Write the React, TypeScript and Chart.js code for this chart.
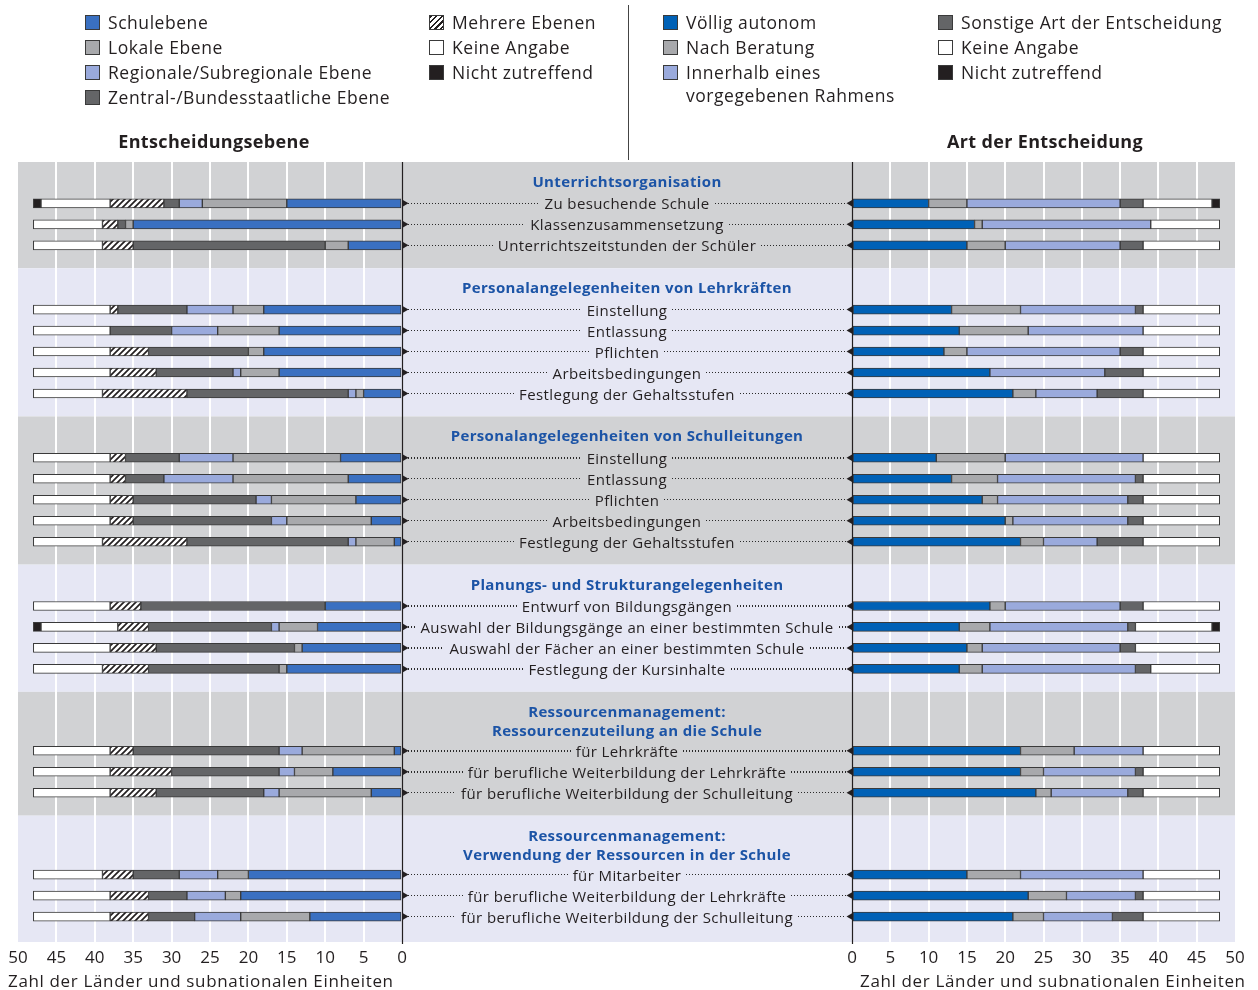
import React, { useEffect, useRef } from 'react';
import { Chart, registerables } from 'chart.js';

Chart.register(...registerables);

// ---------------- DATA ----------------
const groupTitles: string[][] = [
  ['Unterrichtsorganisation'],
  ['Personalangelegenheiten von Lehrkräften'],
  ['Personalangelegenheiten von Schulleitungen'],
  ['Planungs- und Strukturangelegenheiten'],
  ['Ressourcenmanagement:', 'Ressourcenzuteilung an die Schule'],
  ['Ressourcenmanagement:', 'Verwendung der Ressourcen in der Schule'],
];
const groupSizes = [3, 5, 5, 4, 3, 3];

const rowLabels = [
  'Zu besuchende Schule',
  'Klassenzusammensetzung',
  'Unterrichtszeitstunden der Schüler',
  'Einstellung',
  'Entlassung',
  'Pflichten',
  'Arbeitsbedingungen',
  'Festlegung der Gehaltsstufen',
  'Einstellung',
  'Entlassung',
  'Pflichten',
  'Arbeitsbedingungen',
  'Festlegung der Gehaltsstufen',
  'Entwurf von Bildungsgängen',
  'Auswahl der Bildungsgänge an einer bestimmten Schule',
  'Auswahl der Fächer an einer bestimmten Schule',
  'Festlegung der Kursinhalte',
  'für Lehrkräfte',
  'für berufliche Weiterbildung der Lehrkräfte',
  'für berufliche Weiterbildung der Schulleitung',
  'für Mitarbeiter',
  'für berufliche Weiterbildung der Lehrkräfte',
  'für berufliche Weiterbildung der Schulleitung',
];

// Left chart: Entscheidungsebene
const schulebene = [15, 35, 7, 18, 16, 18, 16, 5, 8, 7, 6, 4, 1, 10, 11, 13, 15, 1, 9, 4, 20, 21, 12];
const lokaleEbene = [11, 1, 3, 4, 8, 2, 5, 1, 14, 15, 11, 11, 5, 0, 5, 1, 1, 12, 5, 12, 4, 2, 9];
const regionaleEbene = [3, 0, 0, 6, 6, 0, 1, 1, 7, 9, 2, 2, 1, 0, 1, 0, 0, 3, 2, 2, 5, 5, 6];
const zentraleEbene = [2, 1, 25, 9, 8, 13, 10, 21, 7, 5, 16, 18, 21, 24, 16, 18, 17, 19, 14, 14, 6, 5, 6];
const mehrereEbenen = [7, 2, 4, 1, 0, 5, 6, 11, 2, 2, 3, 3, 11, 4, 4, 6, 6, 3, 8, 6, 4, 5, 5];
const keineAngabeLinks = [9, 9, 9, 10, 10, 10, 10, 9, 10, 10, 10, 10, 9, 10, 10, 10, 9, 10, 10, 10, 9, 10, 10];
const nichtZutreffendLinks = [1, 0, 0, 0, 0, 0, 0, 0, 0, 0, 0, 0, 0, 0, 1, 0, 0, 0, 0, 0, 0, 0, 0];

// Right chart: Art der Entscheidung
const voelligAutonom = [10, 16, 15, 13, 14, 12, 18, 21, 11, 13, 17, 20, 22, 18, 14, 15, 14, 22, 22, 24, 15, 23, 21];
const nachBeratung = [5, 1, 5, 9, 9, 3, 0, 3, 9, 6, 2, 1, 3, 2, 4, 2, 3, 7, 3, 2, 7, 5, 4];
const innerhalbRahmen = [20, 22, 15, 15, 15, 20, 15, 8, 18, 18, 17, 15, 7, 15, 18, 18, 20, 9, 12, 10, 16, 9, 9];
const sonstigeArt = [3, 0, 3, 1, 0, 3, 5, 6, 0, 1, 2, 2, 6, 3, 1, 2, 2, 0, 1, 2, 0, 1, 4];
const keineAngabeRechts = [9, 9, 10, 10, 10, 10, 10, 10, 10, 10, 10, 10, 10, 10, 10, 11, 9, 10, 10, 10, 10, 10, 10];
const nichtZutreffendRechts = [1, 0, 0, 0, 0, 0, 0, 0, 0, 0, 0, 0, 0, 0, 1, 0, 0, 0, 0, 0, 0, 0, 0];

const xTicks = [0, 5, 10, 15, 20, 25, 30, 35, 40, 45, 50];
const axisTitle = 'Zahl der Länder und subnationalen Einheiten';

// ---------------- STYLE ----------------
const FONT = '"Open Sans", "Liberation Sans", Arial, sans-serif';
const INK = '#231f20';
const C = {
  blueL: '#3a70c1',
  blueR: '#0061b6',
  grey: '#a8a9ac',
  lightBlue: '#9aaadc',
  darkGrey: '#646567',
  white: '#ffffff',
  black: '#231f20',
  bandGrey: '#d1d2d4',
  bandLav: '#e6e7f4',
  header: '#1c54a6',
  border: '#3a3a3a',
};

type Layout = { headers: { v: number; text: string }[]; rows: number[]; bands: { from: number; to: number }[]; total: number };

function buildLayout(): Layout {
  const headers: { v: number; text: string }[] = [];
  const rows: number[] = [];
  const bands: { from: number; to: number }[] = [];
  let c = 0;
  groupTitles.forEach((titles, gi) => {
    const start = c;
    titles.forEach((t, k) => headers.push({ v: start + 0.9 + 0.9 * k, text: t }));
    const first = start + 0.9 + 0.9 * (titles.length - 1) + (titles.length > 1 ? 0.98 : 1.05);
    for (let j = 0; j < groupSizes[gi]; j++) rows.push(first + j * 0.99);
    const end = first + (groupSizes[gi] - 1) * 0.99 + (gi === groupTitles.length - 1 ? 1.2 : 1.08);
    bands.push({ from: start, to: end });
    c = end;
  });
  return { headers, rows, bands, total: c };
}

const TOP = 162;
const BOTTOM = 942;
const LEFT_X0 = 18;
const LEFT_X1 = 402;
const RIGHT_X0 = 852;
const RIGHT_X1 = 1235;
const W = 1258;
const H = 990;

function makeHatch(): CanvasPattern | string {
  const c = document.createElement('canvas');
  c.width = 6;
  c.height = 6;
  const g = c.getContext('2d');
  if (!g) return '#888';
  g.fillStyle = '#fff';
  g.fillRect(0, 0, 6, 6);
  g.strokeStyle = INK;
  g.lineWidth = 1.7;
  g.beginPath();
  g.moveTo(-1, 7);
  g.lineTo(7, -1);
  g.moveTo(-1, 1);
  g.lineTo(1, -1);
  g.moveTo(5, 7);
  g.lineTo(7, 5);
  g.stroke();
  return g.createPattern(c, 'repeat') || '#888';
}

function makeChart(canvas: HTMLCanvasElement, side: 'left' | 'right', layout: Layout, hatch: any) {
  const series =
    side === 'left'
      ? [
          { label: 'Schulebene', values: schulebene, color: C.blueL },
          { label: 'Lokale Ebene', values: lokaleEbene, color: C.grey },
          { label: 'Regionale/Subregionale Ebene', values: regionaleEbene, color: C.lightBlue },
          { label: 'Zentral-/Bundesstaatliche Ebene', values: zentraleEbene, color: C.darkGrey },
          { label: 'Mehrere Ebenen', values: mehrereEbenen, color: hatch },
          { label: 'Keine Angabe', values: keineAngabeLinks, color: C.white },
          { label: 'Nicht zutreffend', values: nichtZutreffendLinks, color: C.black },
        ]
      : [
          { label: 'Völlig autonom', values: voelligAutonom, color: C.blueR },
          { label: 'Nach Beratung', values: nachBeratung, color: C.grey },
          { label: 'Innerhalb eines vorgegebenen Rahmens', values: innerhalbRahmen, color: C.lightBlue },
          { label: 'Sonstige Art der Entscheidung', values: sonstigeArt, color: C.darkGrey },
          { label: 'Keine Angabe', values: keineAngabeRechts, color: C.white },
          { label: 'Nicht zutreffend', values: nichtZutreffendRechts, color: C.black },
        ];

  const bandsPlugin = {
    id: 'bands',
    beforeDraw(chart: any) {
      if (side !== 'left') return;
      const ctx = chart.ctx;
      const y = chart.scales.y;
      ctx.save();
      layout.bands.forEach((b, i) => {
        const y0 = y.getPixelForValue(b.from);
        const y1 = y.getPixelForValue(b.to);
        ctx.fillStyle = i % 2 === 0 ? C.bandGrey : C.bandLav;
        ctx.fillRect(LEFT_X0, y0, RIGHT_X1 - LEFT_X0, y1 - y0);
      });
      ctx.restore();
    },
  };

  const axisPlugin = {
    id: 'zeroAxis',
    afterDatasetsDraw(chart: any) {
      const ctx = chart.ctx;
      const x = chart.scales.x;
      const y = chart.scales.y;
      const x0 = Math.round(x.getPixelForValue(0)) + 0.5;
      ctx.save();
      ctx.strokeStyle = INK;
      ctx.lineWidth = 1.2;
      ctx.beginPath();
      ctx.moveTo(x0, chart.chartArea.top);
      ctx.lineTo(x0, chart.chartArea.bottom + 2);
      ctx.stroke();
      ctx.fillStyle = INK;
      const dir = side === 'left' ? 1 : -1;
      layout.rows.forEach((v) => {
        const py = y.getPixelForValue(v);
        ctx.beginPath();
        ctx.moveTo(x0, py - 3.5);
        ctx.lineTo(x0 + dir * 6, py);
        ctx.lineTo(x0, py + 3.5);
        ctx.closePath();
        ctx.fill();
      });
      ctx.restore();
    },
  };

  return new Chart(canvas, {
    type: 'bar',
    data: {
      datasets: series.map((s) => ({
        label: s.label,
        data: s.values.map((val, i) => ({ x: val > 0 ? val : null, y: layout.rows[i] })),
        backgroundColor: s.color,
        borderColor: C.border,
        borderWidth: 1,
        borderSkipped: false,
        barThickness: 9,
      })),
    } as any,
    options: {
      responsive: false,
      animation: false,
      indexAxis: 'y',
      layout: {
        padding:
          side === 'left'
            ? { left: LEFT_X0, right: W - LEFT_X1, top: TOP, bottom: 0 }
            : { left: RIGHT_X0, right: W - RIGHT_X1, top: TOP, bottom: 0 },
      },
      plugins: { legend: { display: false }, tooltip: { enabled: false } },
      scales: {
        x: {
          type: 'linear',
          min: 0,
          max: 50,
          reverse: side === 'left',
          stacked: true,
          position: 'bottom',
          afterBuildTicks: (scale: any) => {
            scale.ticks = xTicks.map((v) => ({ value: v }));
          },
          afterFit: (scale: any) => {
            scale.height = H - BOTTOM;
          },
          ticks: {
            font: { family: FONT, size: 17 },
            color: INK,
            padding: 6,
            maxRotation: 0,
            autoSkip: false,
          },
          grid: {
            color: (c: any) => (c.tick && (c.tick.value === 0 || c.tick.value === 50) ? 'rgba(0,0,0,0)' : '#ffffff'),
            lineWidth: 2,
            drawTicks: false,
          },
          border: { display: false },
        },
        y: {
          type: 'linear',
          min: 0,
          max: layout.total,
          reverse: true,
          stacked: true,
          offset: false,
          display: false,
        },
      },
    } as any,
    plugins: [bandsPlugin, axisPlugin],
  });
}

const Swatch = ({ bg, x, y }: { bg: string; x: number; y: number }) => (
  <div
    style={{
      position: 'absolute',
      left: x,
      top: y - 7,
      width: 13,
      height: 13,
      background: bg,
      border: `1px solid ${C.border}`,
    }}
  />
);

const HATCH_CSS = `repeating-linear-gradient(135deg, ${INK} 0 1.6px, #fff 1.6px 4px)`;

const LegendItem = ({ x, y, bg, lines }: { x: number; y: number; bg: string; lines: string[] }) => (
  <>
    <Swatch bg={bg} x={x} y={y} />
    {lines.map((t, i) => (
      <div
        key={i}
        style={{
          position: 'absolute',
          left: x + 23,
          top: y - 12 + i * 23,
          lineHeight: '24px',
          fontSize: 17.5,
          letterSpacing: '0.55px',
          whiteSpace: 'nowrap',
        }}
      >
        {t}
      </div>
    ))}
  </>
);

export default function App() {
  const leftRef = useRef<HTMLCanvasElement>(null);
  const rightRef = useRef<HTMLCanvasElement>(null);
  const layout = buildLayout();
  const unit = (BOTTOM - TOP) / layout.total;
  const py = (v: number) => TOP + v * unit;

  useEffect(() => {
    document.body.style.margin = '0';
    const hatch = makeHatch();
    const l = makeChart(leftRef.current as HTMLCanvasElement, 'left', layout, hatch);
    const r = makeChart(rightRef.current as HTMLCanvasElement, 'right', layout, hatch);
    return () => {
      l.destroy();
      r.destroy();
    };
  }, []);

  const dots: React.CSSProperties = {
    flex: 1,
    height: 1.5,
    backgroundImage: `repeating-linear-gradient(to right, #2a2a2a 0 1.2px, transparent 1.2px 3px)`,
  };

  return (
    <div style={{ position: 'relative', width: W, height: H, overflow: 'hidden', fontFamily: FONT, color: INK }}>
      <canvas ref={leftRef} width={W} height={H} style={{ position: 'absolute', left: 0, top: 0 }} />
      <canvas ref={rightRef} width={W} height={H} style={{ position: 'absolute', left: 0, top: 0 }} />

      {/* legends */}
      <LegendItem x={85} y={22} bg={C.blueL} lines={['Schulebene']} />
      <LegendItem x={85} y={47} bg={C.grey} lines={['Lokale Ebene']} />
      <LegendItem x={85} y={72} bg={C.lightBlue} lines={['Regionale/Subregionale Ebene']} />
      <LegendItem x={85} y={97} bg={C.darkGrey} lines={['Zentral-/Bundesstaatliche Ebene']} />
      <LegendItem x={429} y={22} bg={HATCH_CSS} lines={['Mehrere Ebenen']} />
      <LegendItem x={429} y={47} bg={C.white} lines={['Keine Angabe']} />
      <LegendItem x={429} y={72} bg={C.black} lines={['Nicht zutreffend']} />

      <LegendItem x={663} y={22} bg={C.blueR} lines={['Völlig autonom']} />
      <LegendItem x={663} y={47} bg={C.grey} lines={['Nach Beratung']} />
      <LegendItem x={663} y={72} bg={C.lightBlue} lines={['Innerhalb eines', 'vorgegebenen Rahmens']} />
      <LegendItem x={938} y={22} bg={C.darkGrey} lines={['Sonstige Art der Entscheidung']} />
      <LegendItem x={938} y={47} bg={C.white} lines={['Keine Angabe']} />
      <LegendItem x={938} y={72} bg={C.black} lines={['Nicht zutreffend']} />

      <div style={{ position: 'absolute', left: 628, top: 5, width: 1, height: 155, background: '#444' }} />

      <div style={{ position: 'absolute', left: 14, width: 400, top: 129, textAlign: 'center', fontWeight: 700, fontSize: 18, letterSpacing: '0.35px', lineHeight: '24px' }}>
        Entscheidungsebene
      </div>
      <div style={{ position: 'absolute', left: 845, width: 400, top: 129, textAlign: 'center', fontWeight: 700, fontSize: 18, letterSpacing: '0.35px', lineHeight: '24px' }}>
        Art der Entscheidung
      </div>

      {/* group headers */}
      {layout.headers.map((h, i) => (
        <div
          key={'h' + i}
          style={{
            position: 'absolute',
            left: 402,
            width: 450,
            top: py(h.v) - 11,
            lineHeight: '22px',
            textAlign: 'center',
            fontWeight: 700,
            fontSize: 15,
            letterSpacing: '0.35px',
            color: C.header,
            whiteSpace: 'nowrap',
          }}
        >
          {h.text}
        </div>
      ))}

      {/* row labels with leaders */}
      {layout.rows.map((v, i) => (
        <div
          key={'r' + i}
          style={{
            position: 'absolute',
            left: 408,
            width: 438,
            top: py(v) - 11,
            height: 22,
            display: 'flex',
            alignItems: 'center',
          }}
        >
          <div style={dots} />
          <div style={{ padding: '0 5px', fontSize: 15, letterSpacing: '0.4px', lineHeight: '22px', whiteSpace: 'nowrap' }}>{rowLabels[i]}</div>
          <div style={dots} />
        </div>
      ))}

      {/* axis titles */}
      <div style={{ position: 'absolute', left: 8, top: 969, fontSize: 17, letterSpacing: '0.65px', lineHeight: '24px', whiteSpace: 'nowrap' }}>{axisTitle}</div>
      <div style={{ position: 'absolute', left: 860, top: 969, fontSize: 17, letterSpacing: '0.65px', lineHeight: '24px', whiteSpace: 'nowrap' }}>{axisTitle}</div>
    </div>
  );
}
